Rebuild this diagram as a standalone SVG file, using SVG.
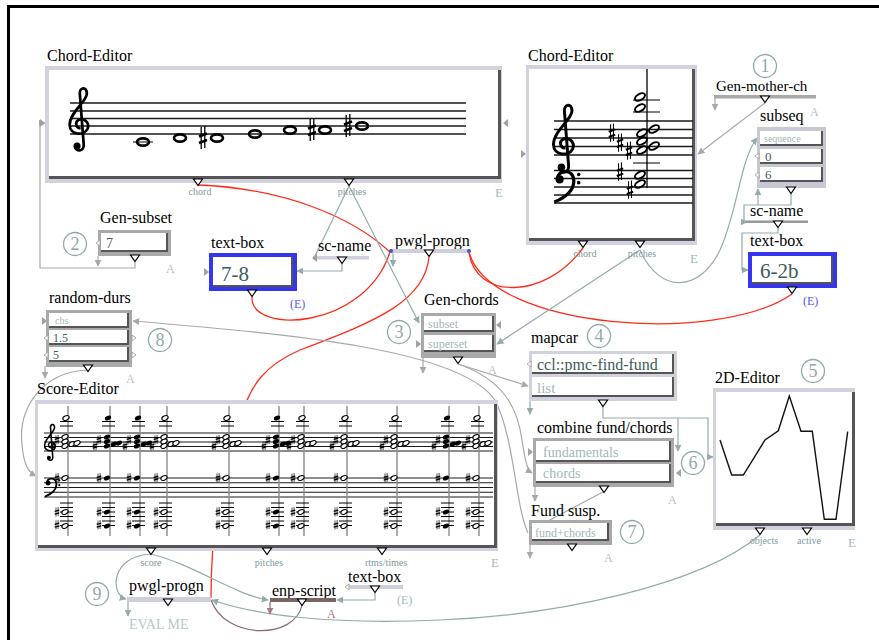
<svg xmlns="http://www.w3.org/2000/svg" xmlns:xlink="http://www.w3.org/1999/xlink" width="879" height="640" viewBox="0 0 879 640">
<style>
.lbl{font-family:"Liberation Serif",serif;font-size:16px;fill:#000}
.port{font-family:"Liberation Serif",serif;font-size:10px;fill:#7d9a9a;text-anchor:middle}
.E{font-family:"Liberation Serif",serif;font-size:13px;fill:#a3baba}
.A{font-family:"Liberation Serif",serif;font-size:12px;fill:#bdbdbd}
.num{font-family:"Liberation Serif",serif;font-size:18px;fill:#8fa8a8;text-anchor:middle}
.ring{fill:none;stroke:#8fa8a8;stroke-width:1.3}
.lav{fill:#d2d2de}
.gry{fill:#a9a9a9}
.dk{fill:#555}
.wh{fill:#fff}
.blue{fill:#3535ee}
.tl{font-family:"Liberation Serif",serif;fill:#a0b8b8}
.td{font-family:"Liberation Serif",serif;fill:#3d5c5c}
.staff{stroke:#1a1a1a;stroke-width:1.3;fill:none}
.sstaff{stroke:#1a1a1a;stroke-width:1;fill:none}
.ledger{stroke:#000;stroke-width:1;fill:none}
.red{fill:none;stroke:#ff2b1a;stroke-width:1.3}
.teal{fill:none;stroke:#93abab;stroke-width:1.2}
.gray{fill:none;stroke:#a8a8a8;stroke-width:1.2}
.brown{fill:none;stroke:#8a6a6a;stroke-width:1.2}
</style>
<defs>
<marker id="mT" viewBox="0 0 10 10" refX="9" refY="5" markerWidth="7" markerHeight="7" markerUnits="userSpaceOnUse" orient="auto"><path d="M0,0 L10,5 L0,10z" fill="#93abab"/></marker>
<marker id="mG" viewBox="0 0 10 10" refX="9" refY="5" markerWidth="7" markerHeight="7" markerUnits="userSpaceOnUse" orient="auto"><path d="M0,0 L10,5 L0,10z" fill="#a8a8a8"/></marker>
<marker id="mB" viewBox="0 0 10 10" refX="9" refY="5" markerWidth="7" markerHeight="7" markerUnits="userSpaceOnUse" orient="auto"><path d="M0,0 L10,5 L0,10z" fill="#a08080"/></marker>
<path id="out" d="M-4.5,0 H4.5 L0,6.5Z" fill="#fff" stroke="#000" stroke-width="1.2"/>
<path id="tR" d="M0,-4 L5,0 L0,4Z" fill="#a0a0a0"/>
<path id="tL" d="M0,-4 L-5,0 L0,4Z" fill="#a0a0a0"/>
<path id="wL" d="M0,-3 L-4,0 L0,3Z" fill="#fff" stroke="#999" stroke-width="0.8"/>
<path id="wR" d="M0,-3 L4,0 L0,3Z" fill="#fff" stroke="#999" stroke-width="0.8"/>
<g id="treble"><path d="M0.4,5.5 C0.4,6.3 1.6,6.3 1.5,5.3 L1.0,-1.2 C0.95,-2.0 1.9,-2.2 1.9,-1.2 C1.9,-0.2 -0.3,1.2 -0.3,2.8 C-0.3,4.1 1.5,4.3 2.0,3.3 C2.3,2.5 1.5,1.8 0.8,2.2 C0.3,2.5 0.6,3.3 1.1,3.2" fill="none" stroke="#000" stroke-width="0.35"/><circle cx="0.65" cy="5.5" r="0.45" fill="#000"/></g>
<g id="bass"><path d="M0.2,1.2 C0,-0.1 2.2,-0.4 2.2,1.3 C2.2,2.6 1.0,3.4 -0.2,3.9" fill="none" stroke="#000" stroke-width="0.4"/><circle cx="0.45" cy="1.1" r="0.5" fill="#000"/><circle cx="2.8" cy="0.5" r="0.22" fill="#000"/><circle cx="2.8" cy="1.5" r="0.22" fill="#000"/></g>
<g id="sharp"><path d="M-1.8,-11 V11 M1.8,-12 V10" stroke="#000" stroke-width="1.3"/><path d="M-4,-1.5 L4,-4.5 M-4,5 L4,2" stroke="#000" stroke-width="2.6"/></g>
<g id="shS"><path d="M-1,-4.5 V4.5 M1.1,-5 V4" stroke="#000" stroke-width="0.7"/><path d="M-2.3,-0.6 L2.3,-1.9 M-2.3,2.2 L2.3,0.9" stroke="#000" stroke-width="1.2"/></g>
<ellipse id="wn" rx="6" ry="3.6" fill="none" stroke="#000" stroke-width="2.6"/>
<ellipse id="hn" rx="5.5" ry="3" transform="rotate(-30)" fill="none" stroke="#000" stroke-width="2"/>
<ellipse id="hh" rx="3.3" ry="2.1" transform="rotate(-25)" fill="#fff" stroke="#000" stroke-width="1.1"/>
<ellipse id="hf" rx="3.3" ry="2.2" transform="rotate(-25)" fill="#000"/>
<g id="chBase">
<line x1="0" y1="406" x2="0" y2="536" stroke="#8a8a8a" stroke-width="1.4"/>
<path class="ledger" d="M-8,421.5 H5 M-8,426 H5 M-8,503 H5 M-8,507.5 H5 M-8,512 H5 M-8,516.5 H5 M-8,521 H5 M-8,525.5 H5"/>
<use xlink:href="#shS" x="-11" y="440"/><use xlink:href="#shS" x="-15" y="446"/><use xlink:href="#shS" x="-11" y="478"/><use xlink:href="#shS" x="-11" y="512"/><use xlink:href="#shS" x="-11" y="525"/>
</g>
<g id="chH"><use xlink:href="#chBase"/><use xlink:href="#hh" x="-2" y="418"/><use xlink:href="#hh" x="-3" y="437"/><use xlink:href="#hh" x="-3" y="441.5"/><use xlink:href="#hh" x="-3" y="446"/><use xlink:href="#hh" x="4" y="444"/><use xlink:href="#hh" x="9" y="443"/><use xlink:href="#hh" x="-3" y="478"/><use xlink:href="#hh" x="-3" y="512"/><use xlink:href="#hh" x="-3" y="526"/></g>
<g id="chF"><use xlink:href="#chBase"/><use xlink:href="#hf" x="-2" y="418"/><use xlink:href="#hf" x="-3" y="437"/><use xlink:href="#hf" x="-3" y="441.5"/><use xlink:href="#hf" x="-3" y="446"/><use xlink:href="#hf" x="4" y="444"/><use xlink:href="#hf" x="9" y="443"/><use xlink:href="#hf" x="-3" y="478"/><use xlink:href="#hf" x="-3" y="512"/><use xlink:href="#hf" x="-3" y="526"/></g>
</defs>
<rect width="879" height="640" fill="#fff"/>
<path d="M8.5,645 V6.5 H885" fill="none" stroke="#000" stroke-width="3"/>

<g id="connectors">
<path class="red" d="M198,185 C280,188 350,215 390,252"/>
<path class="red" d="M252,297 C250,335 365,330 390,252"/>
<path class="red" d="M429,257 C425,300 380,320 300,350 C265,365 250,385 240,420 C230,460 211,500 211,598"/>
<path class="red" d="M469,252 C475,300 545,300 583,248"/>
<path class="red" d="M469,252 C490,330 720,345 792,294"/>
<path class="brown" d="M302,605 C295,640 225,640 211,600"/>
<path class="teal" d="M349,186 L314,258"/>
<path class="teal" d="M349,186 L419,323" marker-end="url(#mT)"/>
<path class="teal" d="M342,264 V271 H297" marker-end="url(#mT)"/>
<path class="gray" d="M765,103 L698,154" marker-end="url(#mG)"/>
<path class="teal" d="M640,250 C660,295 700,292 720,250 C738,210 740,160 757,138" marker-end="url(#mT)"/>
<path class="teal" d="M640,250 L497,344" marker-end="url(#mT)"/>
<path class="teal" d="M791,193 V205 H744 V222 H747" marker-end="url(#mT)"/>
<path class="teal" d="M758,205 V189" marker-end="url(#mT)"/>
<path class="teal" d="M778,228 V233 H742 V270 H748" marker-end="url(#mT)"/>
<path class="teal" d="M603,406 V418 H708 V457 H713" marker-end="url(#mT)"/>
<path class="teal" d="M678,418 V451" marker-end="url(#mG)"/>
<path class="gray" d="M458,364 L528,386" marker-end="url(#mG)"/>
<path class="gray" d="M458,364 C505,380 518,410 522,440 C525,460 527,470 532,473" marker-end="url(#mG)"/>
<path class="gray" d="M528,533 C515,505 515,440 495,400 C460,350 300,335 133,321" marker-end="url(#mG)"/>
<path class="gray" d="M88,370 C40,372 18,410 22,445 C24,465 28,472 36,476" marker-end="url(#mG)"/>
<path class="teal" d="M151,554 C110,556 110,595 126,599" marker-end="url(#mT)"/>
<path class="teal" d="M151,554 C195,565 235,595 268,600" marker-end="url(#mT)"/>
<path class="teal" d="M760,535 C700,585 560,615 440,620 C330,625 255,615 212,600" marker-end="url(#mT)"/>
<path class="teal" d="M375,593 V600 H337" marker-end="url(#mT)"/>
<path class="gray" d="M135,262 V268 H40 V123 H45" marker-end="url(#mG)"/>
<path class="gray" d="M603,492 L546,522"/>
<path class="gray" d="M715,97 V110" marker-end="url(#mG)"/>
<path class="gray" d="M98,256 V266" marker-end="url(#mG)"/>
<path class="gray" d="M45,366 V378" marker-end="url(#mG)"/>
<path class="gray" d="M423,358 V373" marker-end="url(#mG)"/>
<path class="teal" d="M530,400 V414" marker-end="url(#mT)"/>
<path class="gray" d="M535,487 V501" marker-end="url(#mG)"/>
<path class="gray" d="M530,545 V558" marker-end="url(#mG)"/>
<path class="teal" d="M393,253 V266" marker-end="url(#mT)"/>
<path class="teal" d="M128,602 V616" marker-end="url(#mT)"/>
<path class="brown" d="M270,602 V614" marker-end="url(#mB)"/>
</g>

<g id="chord-editor-1">
<text class="lbl" x="47" y="61">Chord-Editor</text>
<rect class="lav" x="45" y="66" width="457" height="117"/>
<rect class="dk" x="49" y="70" width="452" height="109"/>
<rect class="wh" x="49" y="70" width="449" height="106"/>
<path class="staff" d="M70,103 H466 M70,111 H466 M70,118.5 H466 M70,126 H466 M70,134 H466"/>
<use xlink:href="#treble" transform="translate(72,103) scale(7.8)"/>
<path class="ledger" d="M133,142 H153" stroke-width="1.5"/>
<use xlink:href="#wn" x="143" y="142"/><use xlink:href="#wn" x="180" y="138"/>
<use xlink:href="#sharp" x="203" y="138"/><use xlink:href="#wn" x="217" y="138"/>
<use xlink:href="#wn" x="255" y="134"/><use xlink:href="#wn" x="290" y="130"/>
<use xlink:href="#sharp" x="312" y="130"/><use xlink:href="#wn" x="325" y="130"/>
<use xlink:href="#sharp" x="348" y="126"/><use xlink:href="#wn" x="362" y="126"/>
<use xlink:href="#tR" x="40" y="123"/>
<use xlink:href="#tL" x="508" y="123"/>
<use xlink:href="#out" x="198" y="179"/><use xlink:href="#out" x="349" y="179"/>
<text class="port" x="200" y="195">chord</text>
<text class="port" x="352" y="195">pitches</text>
<text class="E" x="495" y="197">E</text>
</g>

<g id="chord-editor-2">
<text class="lbl" x="528" y="61">Chord-Editor</text>
<rect class="lav" x="526" y="65" width="171" height="180"/>
<rect class="dk" x="529" y="69" width="166" height="172"/>
<rect class="wh" x="529" y="69" width="163" height="169"/>
<path class="staff" d="M554,121 H693 M554,129.5 H693 M554,138 H693 M554,146.5 H693 M554,155 H693 M554,170.5 H693 M554,178.5 H693 M554,187 H693 M554,195 H693 M554,203 H693"/>
<use xlink:href="#treble" transform="translate(556,121) scale(8.4)"/>
<use xlink:href="#bass" transform="translate(556,170.5) scale(8.1)"/>
<line x1="647" y1="69" x2="647" y2="188" stroke="#000" stroke-width="1.3"/>
<path class="ledger" d="M633,100 H660 M633,112 H660 M633,163 H660" stroke-width="1.5"/>
<use xlink:href="#hn" x="640" y="97"/><use xlink:href="#hn" x="640" y="108"/>
<use xlink:href="#hn" x="642" y="133"/><use xlink:href="#hn" x="654" y="129"/><use xlink:href="#hn" x="642" y="141"/><use xlink:href="#hn" x="654" y="146"/><use xlink:href="#hn" x="642" y="150"/>
<use xlink:href="#hn" x="640" y="175"/><use xlink:href="#hn" x="640" y="184"/>
<use xlink:href="#sharp" transform="translate(612,133) scale(0.8)"/>
<use xlink:href="#sharp" transform="translate(620,143) scale(0.8)"/>
<use xlink:href="#sharp" transform="translate(629,151) scale(0.8)"/>
<use xlink:href="#sharp" transform="translate(620,172) scale(0.8)"/>
<use xlink:href="#sharp" transform="translate(630,190) scale(0.8)"/>
<use xlink:href="#tR" x="521" y="154"/>
<use xlink:href="#out" x="583" y="241"/><use xlink:href="#out" x="640" y="241"/>
<text class="port" x="585" y="257">chord</text>
<text class="port" x="642" y="257">pitches</text>
<text class="E" x="690" y="263">E</text>
</g>

<g id="gen-mother-ch">
<circle class="ring" cx="765" cy="66" r="11.5"/><text class="num" x="765" y="72">1</text>
<text class="lbl" x="716" y="91" style="font-size:15px">Gen-mother-ch</text>
<rect x="714" y="95" width="102" height="3.5" fill="#a8a8a8"/>
<use xlink:href="#out" x="765" y="96"/>
<text class="A" x="810" y="116">A</text>
</g>

<g id="subseq">
<text class="lbl" x="760" y="121">subseq</text>
<rect x="757" y="127" width="69" height="61" fill="#c8c8d2"/>
<rect class="dk" x="760" y="131" width="63" height="15"/><rect class="wh" x="760" y="131" width="61" height="13"/>
<rect class="dk" x="760" y="149" width="63" height="15"/><rect class="wh" x="760" y="149" width="61" height="13"/>
<rect class="dk" x="760" y="167" width="63" height="15"/><rect class="wh" x="760" y="167" width="61" height="13"/>
<text class="tl" x="764" y="142" style="font-size:10px">sequence</text>
<text class="td" x="765" y="161" style="font-size:13px">0</text>
<text class="td" x="765" y="179" style="font-size:13px">6</text>
<use xlink:href="#wL" x="759" y="156"/><use xlink:href="#wL" x="759" y="175"/>
<use xlink:href="#out" x="791" y="187"/>
</g>

<g id="sc-name-right">
<text class="lbl" x="750" y="216">sc-name</text>
<rect x="745" y="220.5" width="63" height="2.5" fill="#999"/>
<use xlink:href="#out" x="778" y="221"/>
</g>

<g id="text-box-right">
<text class="lbl" x="750" y="246">text-box</text>
<rect class="blue" x="748" y="252" width="89" height="36"/>
<rect class="dk" x="752" y="256" width="81" height="28"/>
<rect class="wh" x="752" y="256" width="79" height="26"/>
<text class="td" x="760" y="278" style="font-size:21px">6-2b</text>
<use xlink:href="#out" x="792" y="287"/>
<text x="803" y="305" style="font-family:'Liberation Serif',serif;font-size:12px;fill:#5858ee">(E)</text>
</g>

<g id="gen-subset">
<circle class="ring" cx="75" cy="244" r="11.5"/><text class="num" x="75" y="250">2</text>
<text class="lbl" x="100" y="223">Gen-subset</text>
<rect class="gry" x="98" y="230" width="73" height="26"/>
<rect class="dk" x="101" y="233" width="67" height="19"/><rect class="wh" x="101" y="233" width="65" height="17"/>
<text class="td" x="106" y="248" style="font-size:14px">7</text>
<use xlink:href="#wL" x="100" y="243"/>
<use xlink:href="#out" x="135" y="255"/>
<text class="A" x="166" y="273">A</text>
</g>

<g id="text-box-78">
<text class="lbl" x="211" y="248">text-box</text>
<rect class="blue" x="209" y="253" width="88" height="38"/>
<rect class="dk" x="213" y="257" width="80" height="30"/>
<rect class="wh" x="213" y="257" width="78" height="28"/>
<text class="td" x="221" y="281" style="font-size:21px">7-8</text>
<use xlink:href="#tR" x="204" y="272"/>
<use xlink:href="#out" x="252" y="290"/>
<text x="290" y="308" style="font-family:'Liberation Serif',serif;font-size:12px;fill:#5858ee">(E)</text>
</g>

<g id="sc-name-mid">
<text class="lbl" x="318" y="251">sc-name</text>
<rect x="313" y="256" width="56" height="3.5" fill="#cfcfdb"/>
<use xlink:href="#tL" x="317" y="258"/>
<use xlink:href="#out" x="342" y="257"/>
</g>

<g id="pwgl-progn-top">
<text class="lbl" x="395" y="246">pwgl-progn</text>
<rect x="390" y="249" width="80" height="4" fill="#cfcfdb"/>
<circle cx="391" cy="251" r="2" fill="#3a55d0"/><circle cx="469" cy="251" r="2" fill="#3a55d0"/>
<use xlink:href="#out" x="429" y="250"/>
</g>

<g id="random-durs">
<circle class="ring" cx="160" cy="340" r="11.5"/><text class="num" x="160" y="346">8</text>
<text class="lbl" x="49" y="303">random-durs</text>
<rect class="gry" x="46" y="310" width="86" height="57"/>
<rect class="dk" x="49" y="313" width="80" height="15"/><rect class="wh" x="49" y="313" width="78" height="13"/>
<rect class="dk" x="49" y="330" width="80" height="15"/><rect class="wh" x="49" y="330" width="78" height="13"/>
<rect class="dk" x="49" y="347" width="80" height="15"/><rect class="wh" x="49" y="347" width="78" height="13"/>
<text class="tl" x="55" y="324" style="font-size:10px">chs</text>
<text class="td" x="53" y="342" style="font-size:12px">1.5</text>
<text class="td" x="53" y="359" style="font-size:12px">5</text>
<use xlink:href="#tR" x="42" y="321"/>
<use xlink:href="#wL" x="48" y="338"/><use xlink:href="#wL" x="48" y="355"/>
<use xlink:href="#wR" x="132" y="338"/><use xlink:href="#wR" x="132" y="355"/>
<use xlink:href="#out" x="88" y="365"/>
<text class="A" x="126" y="383">A</text>
</g>

<g id="gen-chords">
<circle class="ring" cx="399" cy="332" r="11.5"/><text class="num" x="399" y="338">3</text>
<text class="lbl" x="424" y="305">Gen-chords</text>
<rect class="gry" x="421" y="313" width="75" height="45"/>
<rect class="dk" x="424" y="316" width="70" height="16"/><rect class="wh" x="424" y="316" width="68" height="14"/>
<rect class="dk" x="424" y="335" width="70" height="17"/><rect class="wh" x="424" y="335" width="68" height="15"/>
<text class="tl" x="428" y="328" style="font-size:12px">subset</text>
<text class="tl" x="428" y="348" style="font-size:12px">superset</text>
<use xlink:href="#tL" x="501" y="325"/>
<use xlink:href="#tR" x="416" y="344"/>
<use xlink:href="#out" x="458" y="357"/>
<text class="A" x="488" y="374">A</text>
</g>

<g id="mapcar">
<circle class="ring" cx="599" cy="336" r="11.5"/><text class="num" x="599" y="342">4</text>
<text class="lbl" x="531" y="343">mapcar</text>
<rect class="lav" x="529" y="351" width="148" height="50"/>
<rect class="dk" x="532" y="354" width="142" height="20"/><rect class="wh" x="532" y="354" width="140" height="18"/>
<rect class="dk" x="532" y="377" width="142" height="20"/><rect class="wh" x="532" y="377" width="140" height="18"/>
<text class="td" x="537" y="370" style="font-size:16px">ccl::pmc-find-fund</text>
<text class="tl" x="537" y="393" style="font-size:15px">list</text>
<use xlink:href="#wL" x="531" y="364"/>
<use xlink:href="#out" x="603" y="400"/>
</g>

<g id="combine-fund-chords">
<circle class="ring" cx="693" cy="463" r="11.5"/><text class="num" x="693" y="469">6</text>
<text class="lbl" x="537" y="433">combine fund/chords</text>
<rect class="gry" x="533" y="438" width="141" height="49"/>
<rect class="dk" x="536" y="441" width="135" height="21"/><rect class="wh" x="536" y="441" width="133" height="19"/>
<rect class="dk" x="536" y="464" width="135" height="19"/><rect class="wh" x="536" y="464" width="133" height="17"/>
<text class="tl" x="543" y="457" style="font-size:14px">fundamentals</text>
<text class="tl" x="543" y="478" style="font-size:14px">chords</text>
<use xlink:href="#tR" x="528" y="452"/>
<use xlink:href="#tL" x="681" y="473"/>
<use xlink:href="#out" x="604" y="486"/>
<text class="A" x="668" y="504">A</text>
</g>

<g id="fund-susp">
<circle class="ring" cx="632" cy="532" r="11.5"/><text class="num" x="632" y="538">7</text>
<text class="lbl" x="531" y="516">Fund susp.</text>
<rect class="gry" x="529" y="520" width="83" height="25"/>
<rect class="dk" x="532" y="523" width="77" height="18"/><rect class="wh" x="532" y="523" width="75" height="16"/>
<text class="tl" x="535" y="537" style="font-size:12px">fund+chords</text>
<use xlink:href="#out" x="572" y="544"/>
<text class="A" x="604" y="562">A</text>
</g>

<g id="editor-2d">
<circle class="ring" cx="813" cy="371" r="11.5"/><text class="num" x="813" y="377">5</text>
<text class="lbl" x="715" y="383">2D-Editor</text>
<rect class="lav" x="713" y="388" width="142" height="142"/>
<rect class="dk" x="716" y="392" width="139" height="134"/>
<rect class="wh" x="716" y="392" width="136" height="131"/>
<polyline points="720,440 731.7,475 743.3,475 765,440 778.3,430.7 789.3,396 801,431.3 812.3,431.3 824.3,519.3 836,519.3 847.7,431.7" fill="none" stroke="#111" stroke-width="1.4"/>
<use xlink:href="#out" x="760" y="528"/><use xlink:href="#out" x="807" y="528"/>
<text class="port" x="764" y="544">objects</text>
<text class="port" x="809" y="544">active</text>
<text class="E" x="848" y="547">E</text>
</g>

<g id="score-editor">
<text class="lbl" x="37" y="394">Score-Editor</text>
<rect class="lav" x="35" y="400" width="463" height="151"/>
<rect class="dk" x="38" y="404" width="459" height="144"/>
<rect class="wh" x="38" y="404" width="456" height="141"/>
<path class="sstaff" d="M44,433 H493 M44,437.5 H493 M44,442 H493 M44,446.5 H493 M44,451 H493 M44,478 H493 M44,482.75 H493 M44,487.5 H493 M44,492.25 H493 M44,497 H493"/>
<use xlink:href="#treble" transform="translate(46,433) scale(4.5)"/>
<use xlink:href="#bass" transform="translate(46,478) scale(4.75)"/>
<use xlink:href="#chH" x="68"/>
<use xlink:href="#chF" x="110"/>
<use xlink:href="#chF" x="140"/>
<use xlink:href="#chH" x="167"/>
<use xlink:href="#chH" x="229"/>
<use xlink:href="#chF" x="279"/>
<use xlink:href="#chH" x="304"/>
<use xlink:href="#chH" x="347"/>
<use xlink:href="#chH" x="397"/>
<use xlink:href="#chF" x="449"/>
<use xlink:href="#chH" x="479"/>
<use xlink:href="#out" x="151" y="548"/><use xlink:href="#out" x="267" y="548"/><use xlink:href="#out" x="382" y="548"/>
<text class="port" x="151" y="566">score</text>
<text class="port" x="269" y="566">pitches</text>
<text class="port" x="386" y="566">rtms/times</text>
<text class="E" x="491" y="567">E</text>
</g>

<g id="pwgl-progn-bottom">
<circle class="ring" cx="97" cy="594" r="11.5"/><text class="num" x="97" y="600">9</text>
<text class="lbl" x="129" y="591">pwgl-progn</text>
<rect x="127" y="597" width="84" height="5" fill="#cfcfdb"/>
<use xlink:href="#out" x="168" y="599"/>
<text x="129" y="629" style="font-family:'Liberation Serif',serif;font-size:14px;fill:#b3caca">EVAL ME</text>
</g>

<g id="enp-script">
<text class="lbl" x="272" y="596">enp-script</text>
<rect x="270" y="598" width="66" height="4" fill="#7a6464"/>
<use xlink:href="#out" x="302" y="599"/>
<text x="327" y="618" style="font-family:'Liberation Serif',serif;font-size:12px;fill:#a57a7a">A</text>
</g>

<g id="text-box-bottom">
<text class="lbl" x="348" y="582">text-box</text>
<rect x="349" y="585" width="54" height="4" fill="#cfcfdb"/>
<use xlink:href="#wL" x="349" y="587"/>
<use xlink:href="#out" x="375" y="586"/>
<text x="397" y="604" style="font-family:'Liberation Serif',serif;font-size:12px;fill:#a3baba">(E)</text>
</g>
</svg>
